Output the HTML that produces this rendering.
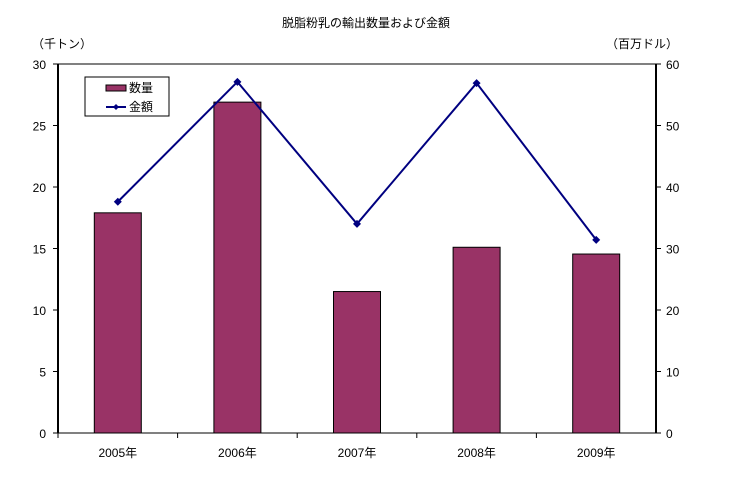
<!DOCTYPE html>
<html><head><meta charset="utf-8"><style>
body{margin:0;background:#fff}
svg text{font-family:"Liberation Sans","Noto Sans CJK JP",sans-serif;font-size:12px;fill:#000}
</style></head><body>
<svg width="732" height="481" xmlns="http://www.w3.org/2000/svg">
<g id="g"></g>
</svg>
<script>
const categories=["2005年","2006年","2007年","2008年","2009年"];
const quantity=[17.9,26.9,11.5,15.1,14.55];
const amount=[37.6,57.1,34.0,56.9,31.4];
const leftTicks=[0,5,10,15,20,25,30];
const rightTicks=[0,10,20,30,40,50,60];
const L=58,R=656,T=64,B=433;
const yL=v=>B-(v/30)*(B-T), yR=v=>B-(v/60)*(B-T);
const bw=(R-L)/categories.length, cx=i=>L+bw*(i+0.5);
const g=document.getElementById('g');
const NS="http://www.w3.org/2000/svg";
function el(t,a,txt){const e=document.createElementNS(NS,t);for(const k in a)e.setAttribute(k,a[k]);if(txt!=null)e.textContent=txt;g.appendChild(e);return e;}
let e;
e=el('text',{x:366,y:27,'text-anchor':'middle','font-size':'14'},'脱脂粉乳の輸出数量および金額');


e=el('text',{x:32,y:48},'（千トン）');


e=el('text',{x:606,y:48},'（百万ドル）');


quantity.forEach((v,i)=>{
 e=el('rect',{x:cx(i)-23.5,y:yL(v),width:47,height:B-yL(v),fill:'#993366',stroke:'#000','stroke-width':1});
 
 
});
e=el('rect',{x:L,y:T,width:R-L,height:B-T,fill:'none',stroke:'#000','stroke-width':1});


e=el('line',{x1:L,y1:T,x2:L,y2:B,stroke:'#000','stroke-width':2});


e=el('line',{x1:R,y1:T,x2:R,y2:B,stroke:'#000','stroke-width':2});


leftTicks.forEach(v=>{
 el('line',{x1:L-5,y1:yL(v),x2:L,y2:yL(v),stroke:'#000'});
 e=el('text',{x:L-12,y:yL(v)+5,'text-anchor':'end'},String(v));
 
 
});
rightTicks.forEach(v=>{
 el('line',{x1:R,y1:yR(v),x2:R+5,y2:yR(v),stroke:'#000'});
 e=el('text',{x:R+10,y:yR(v)+5},String(v));
 
 
});
categories.forEach((c,i)=>{
 el('line',{x1:L+bw*i,y1:B,x2:L+bw*i,y2:B+5,stroke:'#000'});
 e=el('text',{x:cx(i),y:B+24,'text-anchor':'middle'},c);
 
 
});
e=el('polyline',{points:amount.map((v,i)=>cx(i)+','+yR(v)).join(' '),fill:'none',stroke:'#000080','stroke-width':2});


amount.forEach((v,i)=>{
 e=el('path',{d:`M${cx(i)} ${yR(v)-4}L${cx(i)+4} ${yR(v)}L${cx(i)} ${yR(v)+4}L${cx(i)-4} ${yR(v)}Z`,fill:'#000080'});
 
 
});
e=el('rect',{x:85,y:77,width:84,height:39,fill:'#fff',stroke:'#000'});


el('rect',{x:106,y:85,width:20,height:6,fill:'#993366',stroke:'#000'});
e=el('text',{x:129,y:92,'font-size':'11'},'数量');


el('line',{x1:106,y1:107,x2:126,y2:107,stroke:'#000080','stroke-width':2});
el('path',{d:'M116 104L119 107L116 110L113 107Z',fill:'#000080'});
e=el('text',{x:129,y:111,'font-size':'11'},'金額');


</script>
</body></html>
